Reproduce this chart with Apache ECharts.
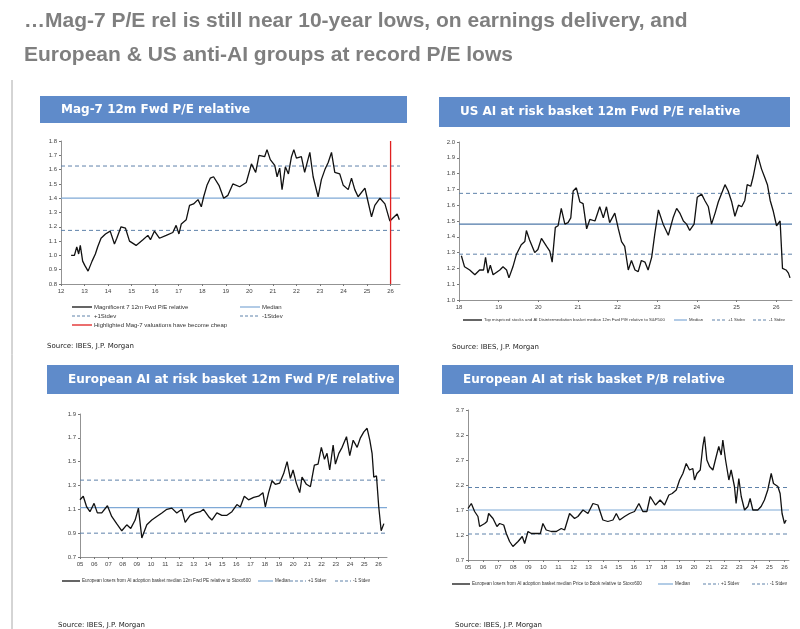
<!DOCTYPE html>
<html>
<head>
<meta charset="utf-8">
<script src="https://cdn.jsdelivr.net/npm/echarts@6/dist/echarts.min.js"></script>
<style>
  html, body { margin: 0; padding: 0; background: #fff; }
  #chart { width: 800px; height: 629px; }
</style>
</head>
<body>
<div id="chart"></div>
<script>
// ---- Mag-7 12m Fwd P/E relative ----
var magX = [12.43,12.57,12.67,12.75,12.82,12.92,13.01,13.06,13.15,13.23,13.32,13.46,13.56,13.70,13.89,14.09,14.27,14.37,14.55,14.74,14.91,15.19,15.48,15.69,15.80,15.97,16.18,16.47,16.75,16.89,17.01,17.11,17.32,17.46,17.63,17.82,17.96,18.06,18.20,18.34,18.48,18.71,18.91,19.09,19.30,19.59,19.87,20.09,20.27,20.41,20.65,20.75,20.89,21.08,21.18,21.29,21.39,21.53,21.66,21.79,21.89,22.00,22.21,22.35,22.57,22.71,22.92,23.06,23.21,23.35,23.49,23.63,23.84,23.99,24.20,24.34,24.48,24.62,24.91,25.05,25.19,25.33,25.55,25.76,25.97,26.09,26.28,26.37];
var magY = [1.00,1.00,1.06,1.01,1.07,0.96,0.93,0.94,0.89,0.89,0.96,1.01,1.06,1.12,1.15,1.17,1.08,1.12,1.20,1.19,1.10,1.07,1.11,1.14,1.11,1.17,1.12,1.14,1.16,1.21,1.15,1.22,1.25,1.35,1.36,1.39,1.34,1.41,1.49,1.54,1.55,1.49,1.40,1.42,1.50,1.48,1.51,1.64,1.58,1.70,1.69,1.74,1.67,1.63,1.55,1.61,1.46,1.62,1.57,1.69,1.74,1.68,1.69,1.58,1.72,1.55,1.41,1.53,1.60,1.65,1.72,1.58,1.57,1.49,1.46,1.54,1.46,1.41,1.47,1.37,1.27,1.35,1.40,1.36,1.24,1.26,1.29,1.25];
var magBands = [1.40, 1.625, 1.175]; // median, +1 stdev, -1 stdev
var magCheap = 26.0;

// ---- US AI at risk basket 12m Fwd P/E relative ----
var usX = [18.06,18.14,18.27,18.40,18.52,18.62,18.67,18.73,18.79,18.86,19.03,19.11,19.20,19.26,19.36,19.45,19.57,19.66,19.70,19.78,19.91,19.99,20.08,20.21,20.29,20.35,20.43,20.50,20.58,20.67,20.75,20.82,20.88,20.96,21.05,21.13,21.22,21.30,21.43,21.55,21.64,21.72,21.80,21.93,22.02,22.10,22.18,22.27,22.35,22.44,22.52,22.60,22.69,22.77,22.86,22.94,23.03,23.15,23.28,23.40,23.49,23.57,23.66,23.74,23.82,23.93,24.01,24.12,24.20,24.29,24.37,24.46,24.54,24.71,24.79,24.88,24.96,25.05,25.13,25.21,25.27,25.36,25.42,25.53,25.63,25.72,25.78,25.85,25.93,26.01,26.10,26.16,26.25,26.31,26.35];
var usY = [1.28,1.21,1.19,1.16,1.19,1.19,1.27,1.17,1.22,1.16,1.19,1.21,1.19,1.14,1.21,1.29,1.35,1.37,1.44,1.38,1.30,1.32,1.39,1.34,1.31,1.24,1.46,1.47,1.58,1.48,1.49,1.52,1.69,1.71,1.62,1.61,1.45,1.51,1.50,1.59,1.52,1.59,1.49,1.55,1.45,1.37,1.34,1.19,1.25,1.19,1.18,1.25,1.24,1.19,1.27,1.42,1.57,1.48,1.41,1.52,1.58,1.55,1.50,1.48,1.44,1.48,1.65,1.67,1.63,1.59,1.48,1.55,1.62,1.73,1.69,1.62,1.53,1.60,1.59,1.63,1.73,1.72,1.78,1.92,1.83,1.77,1.73,1.63,1.56,1.47,1.50,1.20,1.19,1.17,1.14];
var usBands = [1.48, 1.675, 1.29];

// ---- European AI at risk basket 12m Fwd P/E relative ----
var euPeX = [5.00,5.23,5.47,5.70,5.99,6.22,6.53,6.93,7.23,7.58,7.94,8.29,8.57,8.88,9.11,9.35,9.70,10.05,10.40,10.76,11.11,11.46,11.81,12.16,12.40,12.75,13.10,13.46,13.69,14.04,14.28,14.63,14.98,15.34,15.69,16.04,16.28,16.56,16.86,17.22,17.57,17.87,18.04,18.27,18.51,18.74,19.05,19.33,19.57,19.80,19.99,20.22,20.46,20.62,20.93,21.21,21.49,21.75,21.98,22.20,22.38,22.57,22.81,22.97,23.21,23.44,23.75,23.98,24.22,24.50,24.73,24.97,25.20,25.39,25.55,25.67,25.86,26.02,26.19,26.38];
var euPeY = [1.18,1.21,1.12,1.08,1.15,1.07,1.07,1.13,1.04,0.98,0.92,0.97,0.94,1.01,1.11,0.86,0.97,1.01,1.04,1.07,1.10,1.11,1.07,1.10,0.99,1.05,1.07,1.08,1.10,1.04,1.01,1.07,1.05,1.05,1.08,1.14,1.12,1.21,1.18,1.20,1.21,1.24,1.12,1.24,1.34,1.31,1.32,1.40,1.50,1.36,1.43,1.32,1.24,1.37,1.31,1.29,1.47,1.48,1.62,1.52,1.57,1.43,1.64,1.48,1.57,1.62,1.71,1.55,1.68,1.62,1.70,1.75,1.78,1.68,1.57,1.37,1.38,1.12,0.92,0.98];
var euPeBands = [1.115, 1.345, 0.90];

// ---- European AI at risk basket P/B relative ----
var euPbX = [5.00,5.22,5.44,5.66,5.77,6.11,6.26,6.37,6.66,6.92,7.10,7.37,7.54,7.76,7.98,8.32,8.60,8.76,8.98,9.20,9.53,9.80,9.97,10.19,10.53,10.86,11.19,11.41,11.74,12.07,12.29,12.63,12.96,13.29,13.62,13.95,14.28,14.62,14.84,15.06,15.39,15.72,16.05,16.34,16.60,16.87,17.09,17.44,17.75,18.04,18.33,18.55,18.82,19.04,19.26,19.48,19.70,19.92,20.03,20.19,20.41,20.58,20.69,20.85,21.03,21.25,21.47,21.64,21.80,21.91,22.09,22.31,22.46,22.68,22.79,22.97,23.13,23.35,23.57,23.72,23.90,24.23,24.45,24.67,24.89,25.12,25.27,25.56,25.71,25.84,26.00,26.11];
var euPbY = [1.73,1.83,1.67,1.57,1.37,1.43,1.47,1.63,1.53,1.37,1.43,1.40,1.23,1.07,0.97,1.07,1.17,1.03,1.27,1.23,1.23,1.23,1.43,1.30,1.27,1.27,1.33,1.30,1.63,1.53,1.57,1.70,1.63,1.83,1.80,1.50,1.47,1.50,1.63,1.50,1.57,1.63,1.67,1.83,1.67,1.67,1.97,1.80,1.90,1.80,2.00,2.03,2.10,2.30,2.43,2.63,2.50,2.53,2.30,2.43,2.50,2.97,3.17,2.70,2.57,2.50,2.77,2.97,2.80,3.10,2.70,2.30,2.50,2.17,1.83,2.33,1.97,1.70,1.77,1.93,1.70,1.70,1.77,1.90,2.10,2.43,2.23,2.17,2.03,1.63,1.43,1.50];
var euPbBands = [1.70, 2.15, 1.22];

var zip = function (xs, ys) {
    return xs.map(function (x, i) { return [x, ys[i]]; });
};
var yrLabel = function (v) {
    var n = Math.round(v);
    return (n < 10 ? '0' : '') + n;
};

var grids = [
    {left: 61, top: 141, width: 339, height: 143, xMin: 12, xMax: 26.4, yMin: 0.8, yMax: 1.8, yInt: 0.1},
    {left: 459, top: 142, width: 333, height: 158, xMin: 18, xMax: 26.4, yMin: 1.0, yMax: 2.0, yInt: 0.1},
    {left: 80, top: 414, width: 307, height: 143, xMin: 5, xMax: 26.6, yMin: 0.7, yMax: 1.9, yInt: 0.2},
    {left: 468, top: 410, width: 321, height: 150, xMin: 5, xMax: 26.3, yMin: 0.7, yMax: 3.7, yInt: 0.5}
];
var lines = [[magX, magY, magBands], [usX, usY, usBands], [euPeX, euPeY, euPeBands], [euPbX, euPbY, euPbBands]];

var option = {
    animation: false,
    backgroundColor: '#fff',
    grid: grids.map(function (g) {
        return {left: g.left, top: g.top, width: g.width, height: g.height};
    }),
    xAxis: grids.map(function (g, i) {
        return {
            type: 'value', gridIndex: i, min: g.xMin, max: g.xMax, interval: 1,
            splitLine: {show: false},
            axisLine: {lineStyle: {color: '#777', width: 0.8}},
            axisTick: {lineStyle: {color: '#777'}, length: 2},
            axisLabel: {fontSize: 6, color: '#444', margin: 4, showMaxLabel: false, formatter: yrLabel}
        };
    }),
    yAxis: grids.map(function (g, i) {
        return {
            type: 'value', gridIndex: i, min: g.yMin, max: g.yMax, interval: g.yInt,
            splitLine: {show: false},
            axisLine: {show: true, lineStyle: {color: '#777', width: 0.8}},
            axisTick: {show: true, lineStyle: {color: '#777'}, length: 2},
            axisLabel: {fontSize: 6, color: '#444', margin: 4, formatter: function (v) { return v.toFixed(1); }}
        };
    }),
    series: [],
    graphic: []
};

lines.forEach(function (l, i) {
    var g = grids[i];
    option.series.push({
        type: 'line', xAxisIndex: i, yAxisIndex: i, data: zip(l[0], l[1]),
        showSymbol: false, lineStyle: {color: '#111', width: 1.3}, z: 5
    });
    var bandStyles = [
        {color: i === 1 ? '#4f79a8' : '#7fa9d6', width: 1.2, type: 'solid'},
        {color: '#5f82aa', width: 1, type: [4, 3]},
        {color: '#5f82aa', width: 1, type: [4, 3]}
    ];
    l[2].forEach(function (v, k) {
        option.series.push({
            type: 'line', xAxisIndex: i, yAxisIndex: i,
            data: [[g.xMin, v], [g.xMax, v]],
            showSymbol: false, lineStyle: bandStyles[k], z: 3
        });
    });
});
option.series.push({
    type: 'line', xAxisIndex: 0, yAxisIndex: 0,
    data: [[magCheap, 0.8], [magCheap, 1.8]],
    showSymbol: false, lineStyle: {color: '#e02020', width: 1.3}, z: 6
});

// titles, banners, legends, sources
var G = option.graphic;
G.push({type: 'line', shape: {x1: 12, y1: 80, x2: 12, y2: 629}, style: {stroke: '#aaa', lineWidth: 1}});
G.push({type: 'text', left: 24, top: 11, style: {text: '…Mag-7 P/E rel is still near 10-year lows, on earnings delivery, and', font: 'bold 21px "Liberation Sans", Arial', fill: '#7f7f7f'}});
G.push({type: 'text', left: 24, top: 45, style: {text: 'European & US anti-AI groups at record P/E lows', font: 'bold 21px "Liberation Sans", Arial', fill: '#7f7f7f'}});

var banners = [
    [40, 96, 367, 27, 'Mag-7 12m Fwd P/E relative'],
    [439, 97, 351, 30, 'US AI at risk basket 12m Fwd P/E relative'],
    [47, 365, 352, 29, 'European AI at risk basket 12m Fwd P/E relative'],
    [442, 365, 351, 29, 'European AI at risk basket P/B relative']
];
banners.forEach(function (b) {
    G.push({type: 'rect', shape: {x: b[0], y: b[1], width: b[2], height: b[3]}, style: {fill: '#5f8bca'}});
    G.push({type: 'text', x: b[0] + 21, y: b[1] + b[3] / 2, style: {text: b[4], font: 'bold 12px "DejaVu Sans"', fill: '#fff', verticalAlign: 'middle'}});
});

var legendItem = function (x, y, w, kind, label, fs) {
    var st = {lineWidth: 1.3, stroke: '#111'};
    if (kind === 'median') st = {lineWidth: 1.2, stroke: '#7fa9d6'};
    if (kind === 'dash') st = {lineWidth: 1, stroke: '#5f82aa', lineDash: [3, 2]};
    if (kind === 'red') st = {lineWidth: 1.3, stroke: '#e02020'};
    G.push({type: 'line', shape: {x1: x, y1: y, x2: x + w, y2: y}, style: st});
    G.push({type: 'text', x: x + w + 2, y: y, style: {text: label, font: (fs || 6) + 'px "Liberation Sans"', fill: '#333', verticalAlign: 'middle'}});
};
legendItem(72, 307, 20, 'line', 'Magnificent 7 12m Fwd P/E relative');
legendItem(240, 307, 20, 'median', 'Median');
legendItem(72, 316, 20, 'dash', '+1Stdev');
legendItem(240, 316, 20, 'dash', '-1Stdev');
legendItem(72, 325, 20, 'red', 'Highlighted Mag-7 valuations have become cheap');

legendItem(463, 320, 19, 'line', 'Top mispriced stocks and AI Disintermediation basket median 12m Fwd P/E relative to S&P500', 4.3);
legendItem(674, 320, 13, 'median', 'Median', 4.3);
legendItem(712, 320, 14, 'dash', '+1 Stdev', 4.3);
legendItem(753, 320, 14, 'dash', '-1 Stdev', 4.3);

legendItem(62, 581, 18, 'line', 'European losers from AI adoption basket median 12m Fwd PE relative to Stoxx600', 4.6);
legendItem(258, 581, 15, 'median', 'Median', 4.6);
legendItem(290, 581, 16, 'dash', '+1 Stdev', 4.6);
legendItem(335, 581, 16, 'dash', '-1 Stdev', 4.6);

legendItem(452, 584, 18, 'line', 'European losers from AI adoption basket median Price to Book relative to Stoxx600', 4.6);
legendItem(658, 584, 15, 'median', 'Median', 4.6);
legendItem(703, 584, 16, 'dash', '+1 Stdev', 4.6);
legendItem(752, 584, 16, 'dash', '-1 Stdev', 4.6);

[[47, 346], [452, 347], [58, 625], [455, 625]].forEach(function (p) {
    G.push({type: 'text', x: p[0], y: p[1], style: {text: 'Source: IBES, J.P. Morgan', font: '7px "DejaVu Sans"', fill: '#222', verticalAlign: 'middle'}});
});

var myChart = echarts.init(document.getElementById('chart'));
myChart.setOption(option);
window.onresize = myChart.resize;
</script>
</body>
</html>
